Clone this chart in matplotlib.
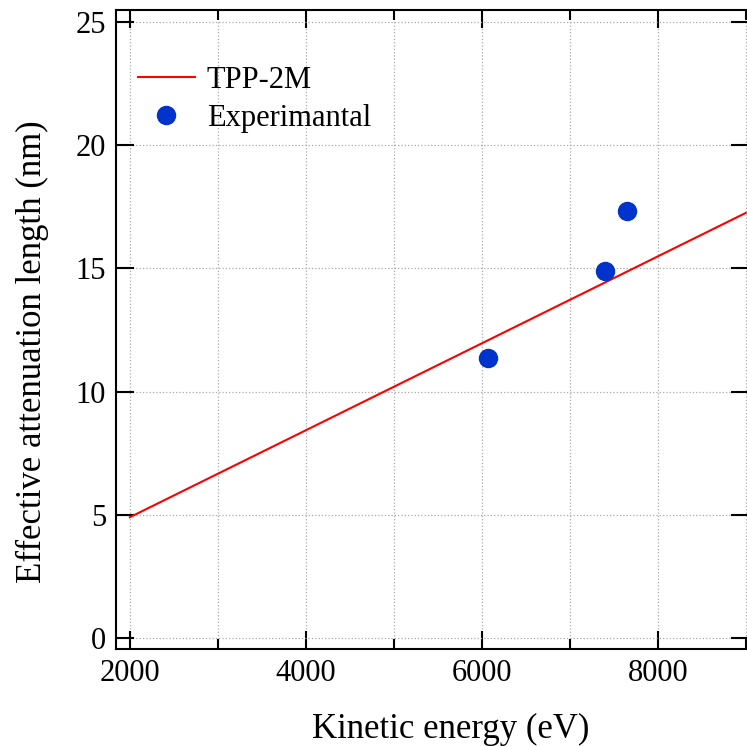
import matplotlib
matplotlib.use('Agg')
import matplotlib.pyplot as plt
from matplotlib.ticker import MultipleLocator

# TPP-2M calculation (straight line over the range)
tpp_energy = [2000, 9000]
tpp_length = [4.9, 17.25]

# measured points
exp_energy = [6075, 7395, 7645]
exp_length = [11.35, 14.9, 17.33]

plt.rcParams['font.family'] = ['Liberation Serif', 'DejaVu Serif']

fig = plt.figure(figsize=(7.47, 7.46), dpi=100)
ax = fig.add_axes([0.155, 0.13, 0.848, 0.857])

ax.plot(tpp_energy, tpp_length, color='#ff0000', lw=1.5, label='TPP-2M')
ax.plot(exp_energy, exp_length, 'o', color='#0033cc', ms=13, label='Experimantal')

ax.set_xlim(1840, 9040)
ax.set_ylim(-0.45, 25.5)
ax.xaxis.set_major_locator(MultipleLocator(2000))
ax.xaxis.set_minor_locator(MultipleLocator(1000))
ax.yaxis.set_major_locator(MultipleLocator(5))

ax.grid(True, which='both', axis='x', ls=':', color='#aaaaaa', lw=0.9)
ax.grid(True, which='major', axis='y', ls=':', color='#aaaaaa', lw=0.9)

ax.tick_params(which='both', direction='in', top=True, right=True, width=1.5, labelsize=22)
ax.tick_params(which='major', length=13, pad=7)
ax.tick_params(which='minor', length=7)
for s in ax.spines.values():
    s.set_linewidth(1.5)

ax.set_xlabel('Kinetic energy (eV)', fontsize=25, labelpad=18.5)
ax.set_ylabel('Effective attenuation length (nm)', fontsize=25, labelpad=19)
# the original figure was wider than this crop, so labels sit off-centre
ax.xaxis.label.set_x(0.529)
ax.yaxis.label.set_y(0.465)

ax.legend(loc='upper left', frameon=False, fontsize=22, bbox_to_anchor=(-0.008, 0.955),
          handlelength=1.85, handletextpad=0.4, borderaxespad=0.5, labelspacing=0.3)

fig.savefig('out.png', dpi=100)
